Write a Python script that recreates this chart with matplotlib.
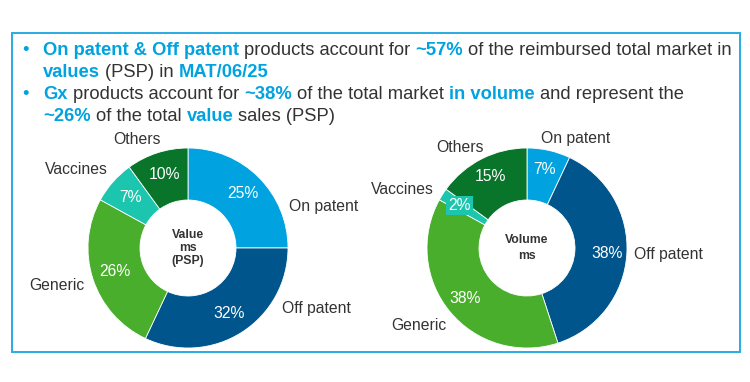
import matplotlib
matplotlib.use("Agg")
import matplotlib.pyplot as plt
from matplotlib.patches import Rectangle

plt.rcParams['font.family'] = ['Liberation Sans', 'DejaVu Sans']

# data
categories = ['On patent', 'Off patent', 'Generic', 'Vaccines', 'Others']
value_share = [25, 32, 26, 7, 10]
volume_share = [7, 38, 38, 2, 15]
colors = ['#00A3E0', '#00558C', '#48AE2C', '#1CC6AE', '#08752A']

HI = '#00A3E0'
TXT = '#333333'

headline = [
    [("On patent & Off patent", True), (" products account for ", False), ("~57%", True),
     (" of the reimbursed total market in", False)],
    [("values", True), (" (PSP) in ", False), ("MAT/06/25", True)],
    [("Gx", True), (" products account for ", False), ("~38%", True),
     (" of the total market ", False), ("in volume", True), (" and represent the", False)],
    [("~26%", True), (" of the total ", False), ("value", True), (" sales (PSP)", False)],
]
bullet_lines = [0, 2]

W, H = 750, 382
fig = plt.figure(figsize=(W / 100, H / 100), dpi=100)
bg = fig.add_axes([0, 0, 1, 1])
bg.set_xlim(0, W)
bg.set_ylim(H, 0)
bg.axis('off')

bg.add_patch(Rectangle((12, 33), 728, 319, fill=False, edgecolor='#29ABE2', linewidth=1.4))

# headline, drawn piece by piece
renderer = fig.canvas.get_renderer()
fs = 13.2


def text_width(s, bold):
    t = bg.text(0, 0, s, fontsize=fs, fontweight='bold' if bold else 'normal')
    w = t.get_window_extent(renderer).width
    t.remove()
    return w


space_w = {b: text_width("x x", b) - text_width("xx", b) for b in (True, False)}

baselines = [55, 77, 99, 121]
for i, line in enumerate(headline):
    y = baselines[i]
    if i in bullet_lines:
        bg.text(22, y, "\u2022", fontsize=fs, color=HI, va='baseline', ha='left')
    x = 43
    for seg, bold in line:
        core = seg.strip(' ')
        lead = len(seg) - len(seg.lstrip(' '))
        trail = len(seg) - len(seg.rstrip(' '))
        x += lead * space_w[bold]
        bg.text(x, y, core, fontsize=fs, color=HI if bold else TXT,
                fontweight='bold' if bold else 'normal', va='baseline', ha='left')
        x += text_width(core, bold) + trail * space_w[bold]

R = 95  # donut radius in pixels
HALF = 125


def donut(cx, cy, values, center_text, label_pos, pctdist, boxed=None, center_ls=1.1):
    ax = fig.add_axes([(cx - HALF) / W, 1 - (cy + HALF) / H, 2 * HALF / W, 2 * HALF / H])
    lim = HALF / R
    ax.set_xlim(-lim, lim)
    ax.set_ylim(-lim, lim)
    ax.axis('off')
    wedges, _, pcts = ax.pie(values, colors=colors, startangle=90, counterclock=False,
                             radius=1, autopct=lambda p: f"{p:.0f}%", pctdistance=pctdist,
                             wedgeprops=dict(width=0.52, edgecolor='white', linewidth=0.6),
                             textprops=dict(color='white', fontsize=11.3))
    if boxed is not None:
        pcts[boxed].set_bbox(dict(facecolor=colors[boxed], edgecolor='none', pad=1.5))
    for name, (lx, ly, ha) in zip(categories, label_pos):
        ax.text(lx, ly, name, fontsize=11.3, color=TXT, ha=ha, va='center')
    ax.text(0, 0, center_text, fontsize=8.8, fontweight='bold', color=TXT,
            ha='center', va='center', linespacing=center_ls, multialignment='center')
    ax.set_aspect('equal')
    return ax


value_labels = [(1.01, 0.41, 'left'), (0.94, -0.60, 'left'), (-1.04, -0.37, 'right'),
                (-0.80, 0.78, 'right'), (-0.51, 1.08, 'center')]
volume_labels = [(0.49, 1.10, 'center'), (1.07, -0.07, 'left'), (-0.81, -0.78, 'right'),
                 (-0.93, 0.59, 'right'), (-0.67, 1.01, 'center')]

donut(188, 248, value_share, "Value\nms\n(PSP)", value_labels, 0.77)
donut(527, 248, volume_share, "Volume\nms", volume_labels, 0.8, boxed=3, center_ls=1.35)

fig.savefig("out.png", dpi=100)
